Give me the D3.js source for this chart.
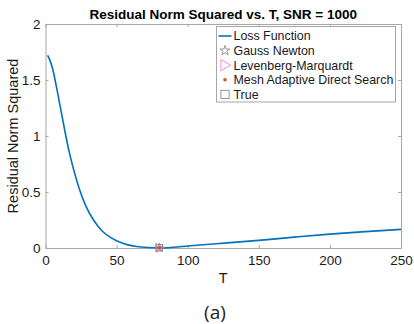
<!DOCTYPE html>
<html>
<head>
<meta charset="utf-8">
<script src="https://cdn.jsdelivr.net/npm/d3@7"></script>
<style>
  body { margin: 0; background: #fff; }
  svg text { font-family: "Liberation Sans", Arial, sans-serif; }
</style>
</head>
<body>
<div id="chart"></div>
<script>
// loss curve
const lossT = [1.5, 3, 5, 8, 11, 14, 17, 20, 24, 28, 34, 40, 46, 52, 58, 64, 72, 80, 90, 100, 120, 150, 175, 200, 225, 250];
const lossY = [1.72, 1.68, 1.60, 1.42, 1.22, 1.02, 0.84, 0.69, 0.52, 0.385, 0.245, 0.15, 0.092, 0.053, 0.028, 0.014, 0.004, 0.0, 0.007, 0.018, 0.038, 0.068, 0.097, 0.124, 0.146, 0.166];

// estimates found by each method
const methods = ["Gauss Newton", "Levenberg-Marquardt", "Mesh Adaptive Direct Search", "True"];
const estT = [80, 80, 80, 80];
const estY = [0.002, 0.002, 0.002, 0.002];

const xTicks = [0, 50, 100, 150, 200, 250];
const yTicks = [0, 0.5, 1, 1.5, 2];

let width = 414, height = 324;
let margin = {left: 45.5, right: 13, top: 24, bottom: 76};
let plotW = width - margin.left - margin.right;
let plotH = height - margin.top - margin.bottom;
let axisColor = "#a6a6a6";

let svg = d3.select("#chart").append("svg")
  .attr("width", width)
  .attr("height", height);

let g = svg.append("g")
  .attr("transform", `translate(${margin.left}, ${margin.top})`);

let x = d3.scaleLinear().domain([0, 250]).range([0, plotW]);
let y = d3.scaleLinear().domain([0, 2]).range([plotH, 0]);

/* axes: ticks inside, box on */
let xAxis = g.append("g")
  .attr("transform", `translate(0, ${plotH})`)
  .call(d3.axisBottom(x).tickValues(xTicks).tickSizeInner(-3).tickSizeOuter(0).tickPadding(7));
let yAxis = g.append("g")
  .call(d3.axisLeft(y).tickValues(yTicks).tickFormat(d3.format("")).tickSizeInner(-3).tickSizeOuter(0).tickPadding(5));
g.append("g")
  .call(d3.axisTop(x).tickValues(xTicks).tickSizeInner(-3).tickSizeOuter(0).tickFormat(""));
g.append("g")
  .attr("transform", `translate(${plotW}, 0)`)
  .call(d3.axisRight(y).tickValues(yTicks).tickSizeInner(-3).tickSizeOuter(0).tickFormat(""));

g.selectAll(".domain, .tick line").attr("stroke", axisColor).attr("stroke-width", 1);
g.selectAll(".tick text")
  .attr("fill", "#1a1a1a")
  .style("font-size", "13.5px");
yAxis.selectAll(".tick text").attr("dy", "0.36em");

/* curve */
let line = d3.line()
  .x(d => x(d[0]))
  .y(d => y(d[1]))
  .curve(d3.curveMonotoneX);

g.append("path")
  .datum(lossT.map((t, i) => [t, lossY[i]]))
  .attr("fill", "none")
  .attr("stroke", "#0072BD")
  .attr("stroke-width", 1.6)
  .attr("d", line);

/* markers */
let star = d3.symbol().type(d3.symbolStar);
let drawMarker = (sel, k, cx, cy, s) => {
  if (k === 0) {
    sel.append("path")
      .attr("d", star.size(s * 4)())
      .attr("transform", `translate(${cx}, ${cy})`)
      .attr("fill", "none").attr("stroke", "#7f7f7f").attr("stroke-width", 0.8);
  } else if (k === 1) {
    sel.append("path")
      .attr("d", `M${cx - s * 0.55},${cy - s * 0.75}L${cx + s * 0.75},${cy}L${cx - s * 0.55},${cy + s * 0.75}Z`)
      .attr("fill", "none").attr("stroke", "#f08cf0").attr("stroke-width", 1);
  } else if (k === 2) {
    sel.append("circle")
      .attr("cx", cx).attr("cy", cy).attr("r", 1.8)
      .attr("fill", "#D95319");
  } else {
    sel.append("rect")
      .attr("x", cx - s * 0.55).attr("y", cy - s * 0.55)
      .attr("width", s * 1.1).attr("height", s * 1.1)
      .attr("fill", "none").attr("stroke", "#8a8a8a").attr("stroke-width", 0.9);
  }
};

methods.forEach((m, i) => drawMarker(g, i, x(estT[i]), y(estY[i]), 6));

/* legend */
let legend = svg.append("g").attr("transform", "translate(216.5, 26.5)");
legend.append("rect")
  .attr("width", 179).attr("height", 75.5)
  .attr("fill", "#fff").attr("stroke", axisColor).attr("stroke-width", 1);

let legendNames = ["Loss Function"].concat(methods);
legendNames.forEach((name, i) => {
  let ly = 9.5 + i * 14.6;
  if (i === 0) {
    legend.append("line")
      .attr("x1", 2).attr("x2", 15).attr("y1", ly).attr("y2", ly)
      .attr("stroke", "#0072BD").attr("stroke-width", 1.6);
  } else {
    drawMarker(legend, i - 1, 8.5, ly, i === 3 ? 5.5 : 7.5);
  }
  legend.append("text")
    .attr("x", 17).attr("y", ly)
    .attr("dy", "0.36em")
    .attr("fill", "#1a1a1a")
    .style("font-size", "12.4px")
    .text(name);
});

/* titles */
svg.append("text")
  .attr("x", margin.left + plotW / 2).attr("y", 19)
  .attr("text-anchor", "middle")
  .style("font-size", "13.5px").style("font-weight", "bold")
  .attr("fill", "#000")
  .text("Residual Norm Squared vs. T, SNR = 1000");

svg.append("text")
  .attr("x", margin.left + plotW / 2).attr("y", 283)
  .attr("text-anchor", "middle")
  .style("font-size", "14.5px")
  .attr("fill", "#1a1a1a")
  .text("T");

svg.append("text")
  .attr("transform", `translate(18, ${margin.top + plotH / 2}) rotate(-90)`)
  .attr("text-anchor", "middle")
  .style("font-size", "14.5px")
  .attr("fill", "#1a1a1a")
  .text("Residual Norm Squared");

svg.append("text")
  .attr("x", 215).attr("y", 319)
  .attr("text-anchor", "middle")
  .style("font-size", "19px")
  .style("font-family", "'Open Sans', sans-serif")
  .attr("fill", "#222")
  .text("(a)");
</script>
</body>
</html>
